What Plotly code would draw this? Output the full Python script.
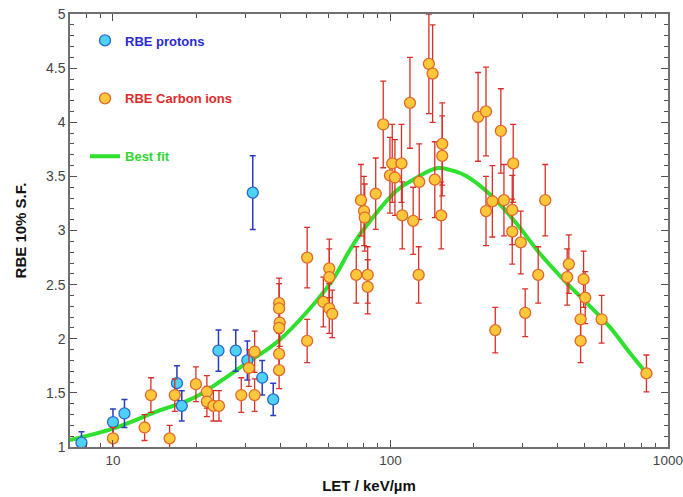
import plotly.graph_objects as go

# ---- data ----
proton_let = [7.7, 10.0, 11.0, 17.0, 17.7, 24.0, 27.7, 30.5, 31.9, 34.5, 37.8]
proton_rbe = [1.04, 1.23, 1.31, 1.59, 1.38, 1.89, 1.89, 1.80, 3.35, 1.64, 1.44]
proton_err = [0.10, 0.12, 0.13, 0.16, 0.14, 0.19, 0.19, 0.18, 0.34, 0.16, 0.15]

carbon_let = [10.0, 13.0, 13.7, 16.0, 16.7, 19.9, 21.8, 21.8, 23.0, 24.1,
              29.0, 30.9, 32.4, 32.4, 39.7, 39.7, 39.9, 39.7, 39.7, 39.7,
              50.1, 50.1, 57.3, 60.2, 60.2, 60.2, 61.7, 75.3, 78.3, 80.3,
              80.8, 82.8, 82.8, 88.5, 94.2, 99.6, 101.5, 103.8, 109.6, 110.3,
              117.6, 120.8, 126.4, 127.0, 137.6, 141.9, 144.5, 152.4, 153.7, 153.7,
              207.0, 221.0, 221.0, 233.0, 238.7, 250.0, 256.5, 274.8, 274.8, 277.0,
              295.0, 306.0, 340.9, 361.3, 433.6, 439.5, 484.6, 484.6, 496.7, 503.5,
              577.0, 837.0]
carbon_rbe = [1.08, 1.18, 1.48, 1.08, 1.48, 1.58, 1.51, 1.42, 1.38, 1.38,
              1.48, 1.73, 1.88, 1.48, 2.33, 2.28, 2.15, 2.10, 1.86, 1.71,
              2.75, 1.98, 2.34, 2.65, 2.57, 2.28, 2.23, 2.59, 3.28, 3.18,
              3.12, 2.59, 2.48, 3.34, 3.98, 3.51, 3.62, 3.49, 3.62, 3.14,
              4.18, 3.09, 2.59, 3.45, 4.54, 4.45, 3.47, 3.14, 3.80, 3.69,
              4.05, 4.10, 3.18, 3.27, 2.08, 3.92, 3.28, 3.19, 2.99, 3.62,
              2.89, 2.24, 2.59, 3.28, 2.57, 2.69, 2.18, 1.98, 2.55, 2.38,
              2.18, 1.68]
carbon_err = [0.10, 0.12, 0.16, 0.12, 0.15, 0.16, 0.15, 0.14, 0.14, 0.14,
              0.16, 0.17, 0.19, 0.15, 0.23, 0.23, 0.22, 0.21, 0.19, 0.17,
              0.28, 0.20, 0.23, 0.27, 0.26, 0.23, 0.22, 0.26, 0.33, 0.32,
              0.31, 0.26, 0.25, 0.33, 0.40, 0.35, 0.36, 0.35, 0.36, 0.31,
              0.42, 0.31, 0.26, 0.35, 0.46, 0.45, 0.35, 0.31, 0.38, 0.37,
              0.41, 0.41, 0.32, 0.33, 0.21, 0.39, 0.33, 0.32, 0.30, 0.36,
              0.29, 0.22, 0.26, 0.33, 0.26, 0.27, 0.22, 0.20, 0.26, 0.24,
              0.22, 0.17]

fit_let = [7.0, 10.0, 14.8, 19.4, 30.3, 39.9, 60.6, 71.4, 79.5, 105.8, 120.8,
           146.8, 163.9, 188.8, 233.9, 283.8, 345.0, 433.8, 510.5, 617.0, 729.0, 837.0]
fit_rbe = [1.065, 1.17, 1.34, 1.45, 1.775, 1.99, 2.51, 2.82, 3.0, 3.375, 3.47,
           3.575, 3.56, 3.50, 3.31, 3.07, 2.79, 2.51, 2.33, 2.11, 1.87, 1.68]

x_ticks = [10, 100, 1000]
x_ticklabels = ["10", "100", "1000"]
x_minor = [8, 9, 20, 30, 40, 50, 60, 70, 80, 90, 200, 300, 400, 500, 600, 700, 800, 900]

FONT = "Liberation Sans, Arial, sans-serif"

fig = go.Figure()

fig.add_trace(go.Scatter(
    x=fit_let, y=fit_rbe, mode="lines", line=dict(color="#2fe02f", width=4, shape="spline", smoothing=1.0),
    name="<b><span style='color:#2fd82f'>Best fit</span></b>", legendrank=3, legendgroup="c"))

fig.add_trace(go.Scatter(
    x=proton_let, y=proton_rbe, mode="markers",
    error_y=dict(type="data", array=proton_err, color="#2a3cc0", thickness=1.5, width=3),
    marker=dict(size=11, color="#4fd0f5", line=dict(color="#2a6ad0", width=1.3)),
    name="<b><span style='color:#2a2ad0'>RBE protons</span></b>", legendrank=1, legendgroup="a"))

fig.add_trace(go.Scatter(
    x=carbon_let, y=carbon_rbe, mode="markers",
    error_y=dict(type="data", array=carbon_err, color="#d83028", thickness=1.3, width=3),
    marker=dict(size=11, color="#ffc83a", line=dict(color="#e0682a", width=1.3)),
    name="<b><span style='color:#e02a2a'>RBE Carbon ions</span></b>", legendrank=2, legendgroup="b"))

axis_common = dict(showline=True, linecolor="#707070", linewidth=1.5, mirror="allticks",
                   ticks="inside", tickcolor="#505050", showgrid=False, zeroline=False,
                   automargin=False, ticklabeloverflow="allow")

fig.update_xaxes(type="log", range=[0.845098, 3.0004], tickmode="array", tickvals=x_ticks,
                 ticktext=x_ticklabels, ticklen=7,
                 tickfont=dict(family=FONT, size=13.5, color="#444444"),
                 minor=dict(ticks="inside", ticklen=4, tickmode="array", tickvals=x_minor, tickcolor="#505050"),
                 title=dict(text="<b>LET / keV/µm</b>", standoff=14,
                            font=dict(family=FONT, size=15, color="#111111")),
                 **axis_common)
fig.update_yaxes(range=[1, 5.0005], dtick=0.5, tick0=1, ticklen=7,
                 tickfont=dict(family=FONT, size=14, color="#444444"),
                 minor=dict(ticks="inside", ticklen=4, dtick=0.1, tickcolor="#505050"),
                 title=dict(text="<b>RBE 10% S.F.</b>", standoff=16,
                            font=dict(family=FONT, size=15, color="#111111")),
                 **axis_common)

fig.update_layout(
    width=683, height=497,
    margin=dict(l=70, r=15, t=14, b=50),
    paper_bgcolor="white", plot_bgcolor="white",
    showlegend=True,
    legend=dict(x=0.0251, y=0.9735, xanchor="left", yanchor="top", bgcolor="rgba(0,0,0,0)",
                tracegroupgap=38, font=dict(family=FONT, size=13)),
)

# remove the default 8px page margin so the figure fills the window exactly
fig.write_html("out.html", config={"displayModeBar": False},
               post_script="document.body.style.margin='0';document.body.style.overflow='hidden';")
